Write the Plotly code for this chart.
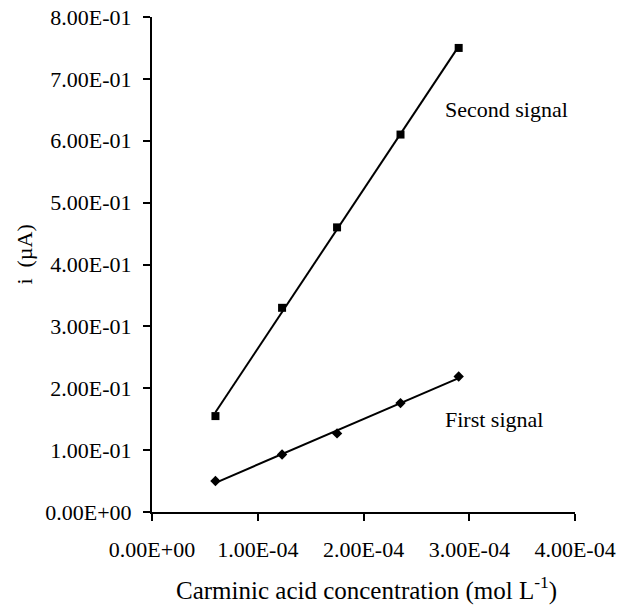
import numpy as np
import plotly.graph_objects as go

# Data
conc = [0.60e-4, 1.23e-4, 1.75e-4, 2.35e-4, 2.90e-4]
second_signal = [0.155, 0.33, 0.46, 0.61, 0.75]
first_signal = [0.050, 0.093, 0.127, 0.176, 0.219]

x_tickvals = [0, 1e-4, 2e-4, 3e-4, 4e-4]
x_ticktext = ["0.00E+00", "1.00E-04", "2.00E-04", "3.00E-04", "4.00E-04"]
y_tickvals = [0, 0.1, 0.2, 0.3, 0.4, 0.5, 0.6, 0.7, 0.8]
y_ticktext = ["0.00E+00", "1.00E-01", "2.00E-01", "3.00E-01", "4.00E-01",
              "5.00E-01", "6.00E-01", "7.00E-01", "8.00E-01"]

x_title = "Carminic acid concentration (mol L<sup>-1</sup>)"
y_title = "i  (µA)"

FONT = "Times New Roman, Liberation Serif, serif"
FS = 22

fig = go.Figure()

def add_series(y, symbol, size):
    xs = np.array(conc)
    m, b = np.polyfit(xs, np.array(y), 1)
    xl = np.array([xs.min(), xs.max()])
    fig.add_trace(go.Scatter(x=xl, y=m * xl + b, mode="lines",
                             line=dict(color="black", width=2),
                             showlegend=False, hoverinfo="skip"))
    fig.add_trace(go.Scatter(x=conc, y=y, mode="markers",
                             marker=dict(symbol=symbol, size=size, color="black"),
                             showlegend=False))

add_series(second_signal, "square", 8)
add_series(first_signal, "diamond", 8)

fig.add_annotation(x=2.747e-4, y=0.65, text="Second signal", showarrow=False,
                   xanchor="left", yanchor="middle",
                   font=dict(family=FONT, size=FS, color="black"))
fig.add_annotation(x=2.747e-4, y=0.149, text="First signal", showarrow=False,
                   xanchor="left", yanchor="middle",
                   font=dict(family=FONT, size=FS, color="black"))

# axis titles
fig.add_annotation(xref="paper", yref="paper", x=0.5, y=0, xshift=3, yshift=-95,
                   text=x_title, showarrow=False, xanchor="center", yanchor="bottom",
                   font=dict(family=FONT, size=25, color="black"))
fig.add_annotation(xref="paper", yref="paper", x=0, y=0.52, xshift=-127,
                   text=y_title, textangle=-90, showarrow=False,
                   xanchor="center", yanchor="middle",
                   font=dict(family=FONT, size=FS, color="black"))

fig.update_layout(
    template="none",
    width=619, height=607,
    margin=dict(l=152, r=44, t=17, b=95, autoexpand=False),
    paper_bgcolor="white", plot_bgcolor="white",
    font=dict(family=FONT, size=FS, color="black"),
    xaxis=dict(range=[0, 4e-4], tickvals=x_tickvals, ticktext=x_ticktext,
               automargin=False,
               showgrid=False, zeroline=False, showline=True, linecolor="black",
               linewidth=2, ticks="outside", ticklen=7, tickwidth=2,
               tickcolor="black", ticklabelstandoff=10,
               tickfont=dict(family=FONT, size=FS, color="black")),
    yaxis=dict(range=[0, 0.8], tickvals=y_tickvals, ticktext=y_ticktext,
               automargin=False,
               showgrid=False, zeroline=False, showline=True, linecolor="black",
               linewidth=2, ticks="outside", ticklen=7, tickwidth=2,
               tickcolor="black", ticklabelstandoff=7,
               tickfont=dict(family=FONT, size=FS, color="black")),
)

fig.write_html("out.html", config={"displayModeBar": False},
               post_script="document.body.style.margin='0';document.body.style.padding='0';")
